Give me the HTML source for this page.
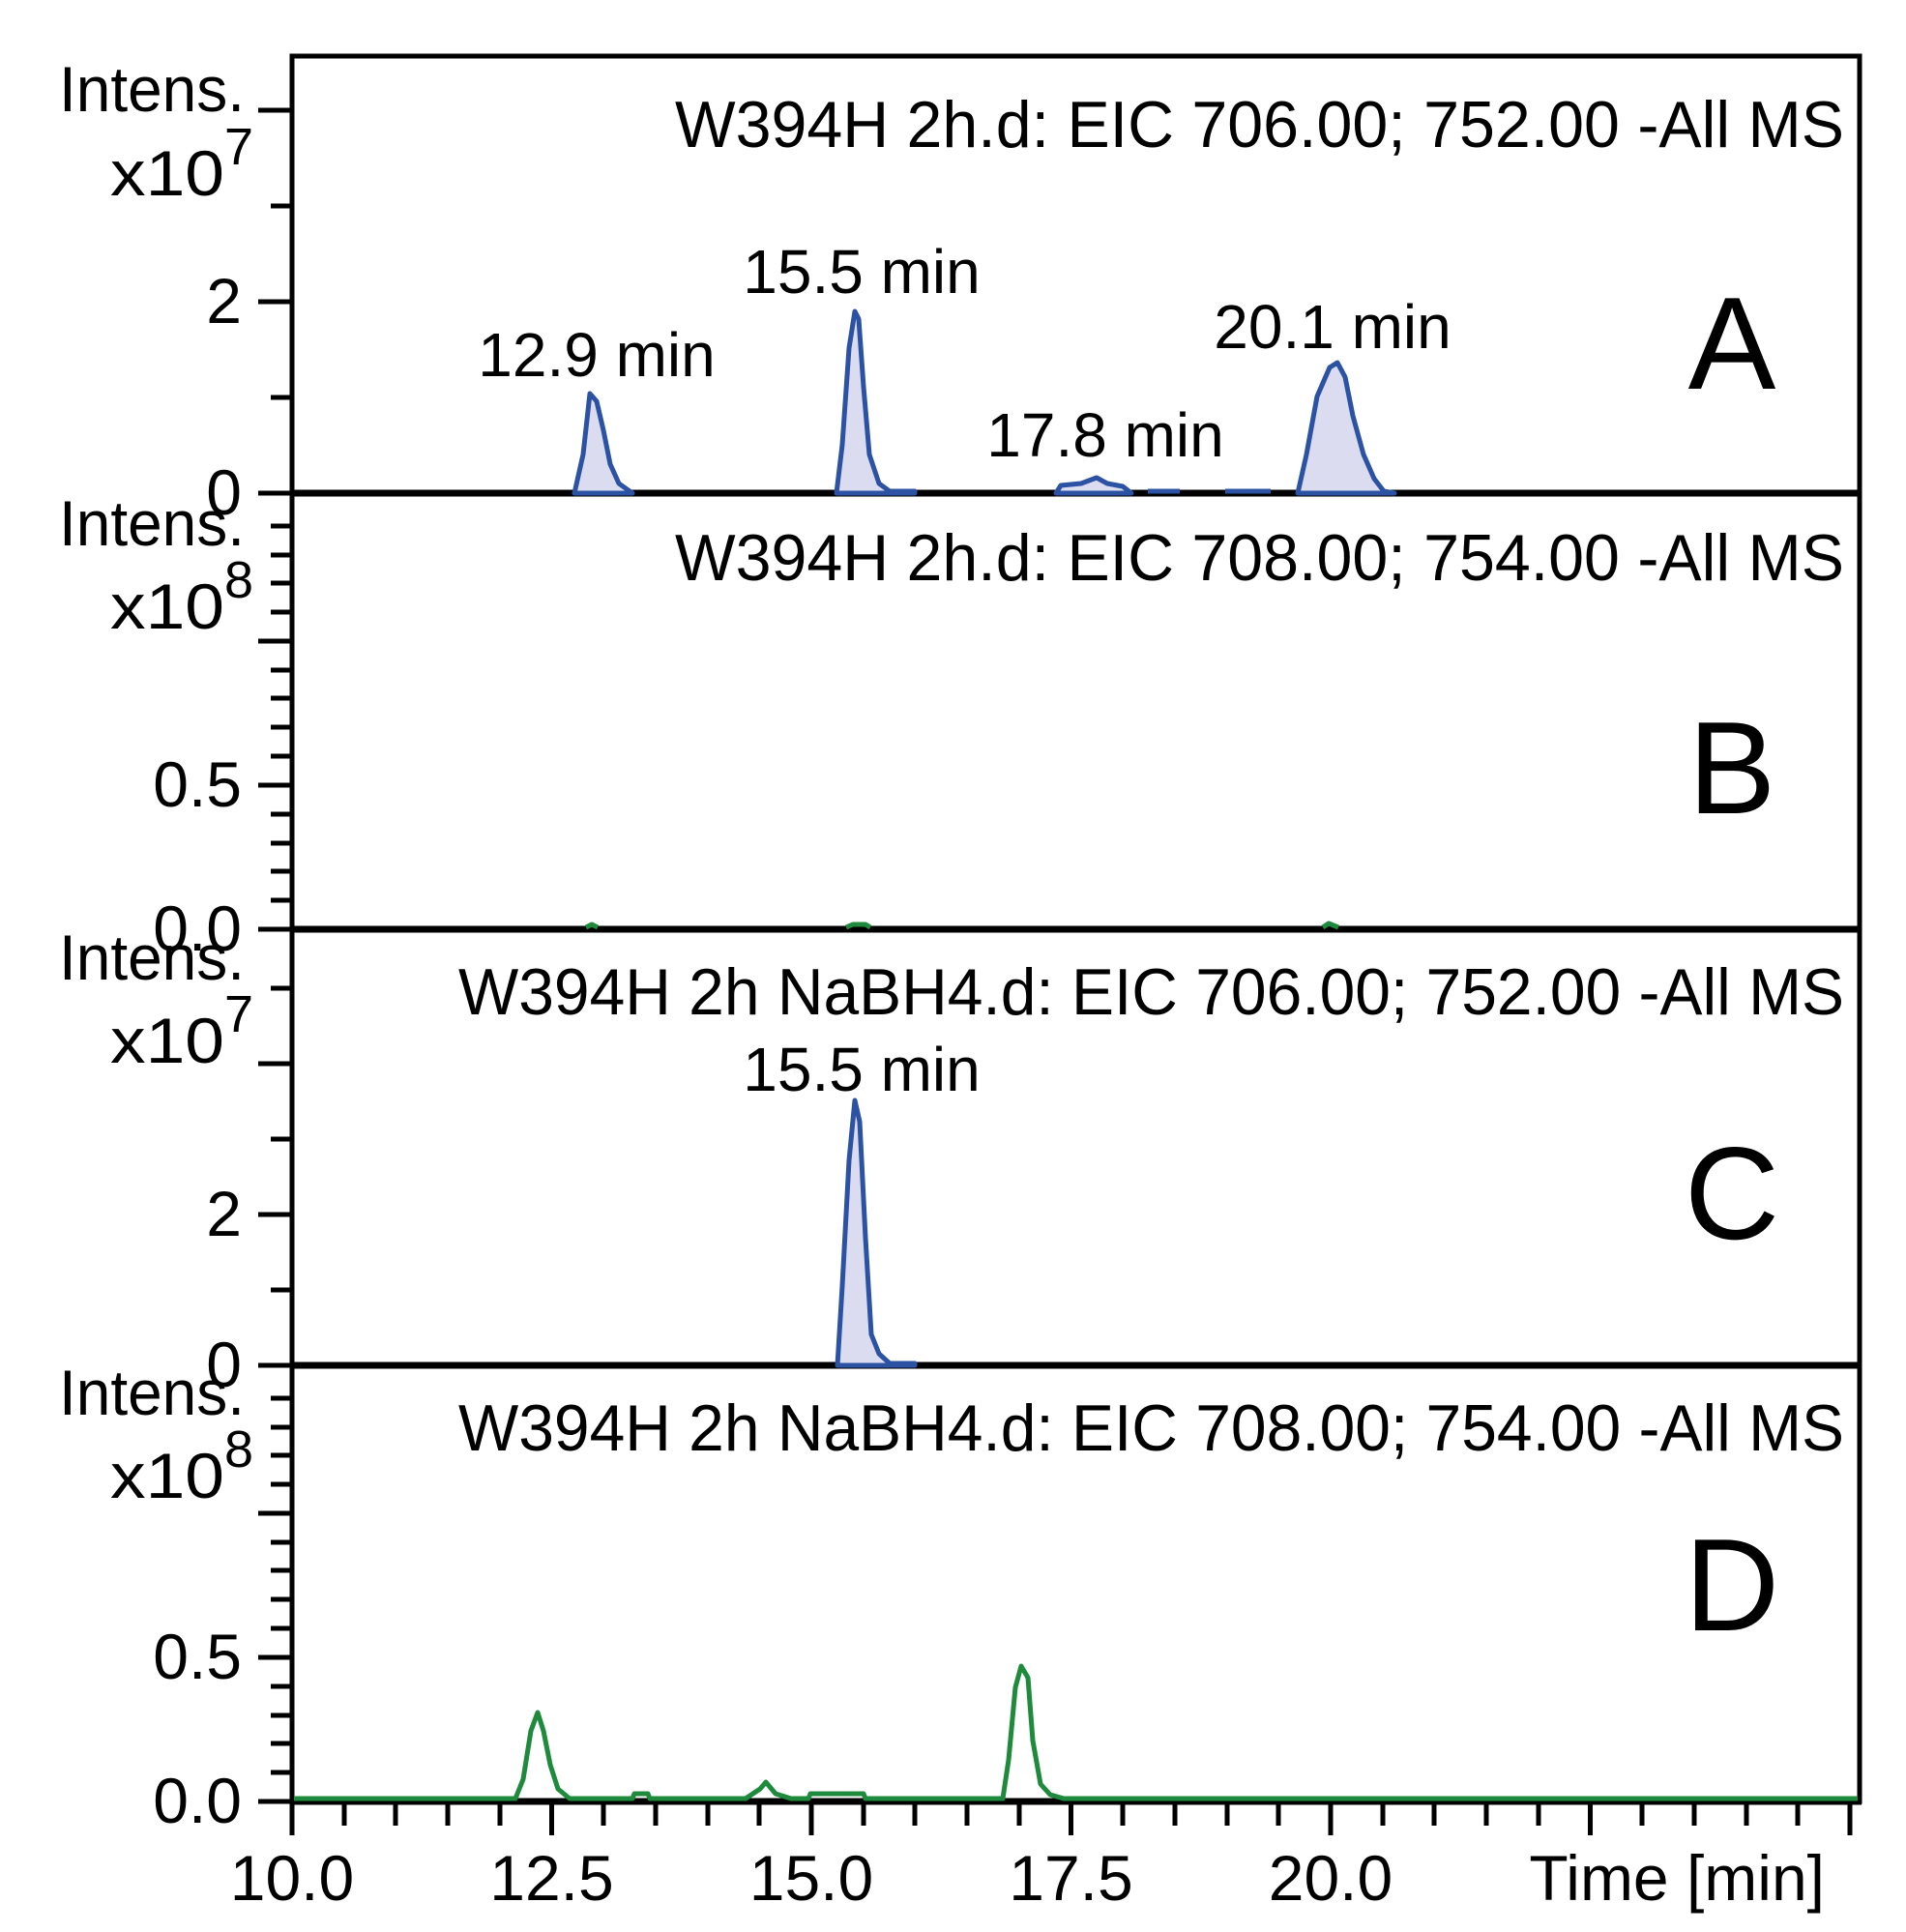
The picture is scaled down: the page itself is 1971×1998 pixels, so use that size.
<!DOCTYPE html>
<html><head><meta charset="utf-8"><style>html,body{margin:0;padding:0;background:#fff}svg{display:block}text{font-family:"Liberation Sans",sans-serif;fill:#000}</style></head><body>
<svg width="1971" height="1998" viewBox="0 0 1971 1998" xmlns="http://www.w3.org/2000/svg">
<rect width="1971" height="1998" fill="#fff"/>
<rect x="302" y="58" width="1621" height="1805" fill="none" stroke="#000" stroke-width="5"/>
<g stroke="#000" stroke-width="7"><line x1="300" y1="510" x2="1925" y2="510"/><line x1="300" y1="961" x2="1925" y2="961"/><line x1="300" y1="1412" x2="1925" y2="1412"/><line x1="300" y1="1863" x2="1925" y2="1863"/></g>
<g stroke="#000" stroke-width="5">
<line x1="267" y1="510" x2="302" y2="510"/><line x1="280" y1="411" x2="302" y2="411"/><line x1="267" y1="312" x2="302" y2="312"/><line x1="280" y1="213" x2="302" y2="213"/><line x1="267" y1="114" x2="302" y2="114"/>
<line x1="267" y1="961" x2="302" y2="961"/><line x1="280" y1="931" x2="302" y2="931"/><line x1="280" y1="901" x2="302" y2="901"/><line x1="280" y1="872" x2="302" y2="872"/><line x1="280" y1="842" x2="302" y2="842"/><line x1="267" y1="812" x2="302" y2="812"/><line x1="280" y1="782" x2="302" y2="782"/><line x1="280" y1="752" x2="302" y2="752"/><line x1="280" y1="722" x2="302" y2="722"/><line x1="280" y1="693" x2="302" y2="693"/><line x1="267" y1="663" x2="302" y2="663"/><line x1="280" y1="633" x2="302" y2="633"/><line x1="280" y1="603" x2="302" y2="603"/><line x1="280" y1="574" x2="302" y2="574"/><line x1="280" y1="544" x2="302" y2="544"/>
<line x1="267" y1="1412" x2="302" y2="1412"/><line x1="280" y1="1334" x2="302" y2="1334"/><line x1="267" y1="1256" x2="302" y2="1256"/><line x1="280" y1="1178" x2="302" y2="1178"/><line x1="267" y1="1100" x2="302" y2="1100"/><line x1="280" y1="1022" x2="302" y2="1022"/>
<line x1="267" y1="1863" x2="302" y2="1863"/><line x1="280" y1="1833" x2="302" y2="1833"/><line x1="280" y1="1803" x2="302" y2="1803"/><line x1="280" y1="1774" x2="302" y2="1774"/><line x1="280" y1="1744" x2="302" y2="1744"/><line x1="267" y1="1714" x2="302" y2="1714"/><line x1="280" y1="1684" x2="302" y2="1684"/><line x1="280" y1="1654" x2="302" y2="1654"/><line x1="280" y1="1624" x2="302" y2="1624"/><line x1="280" y1="1595" x2="302" y2="1595"/><line x1="267" y1="1565" x2="302" y2="1565"/><line x1="280" y1="1535" x2="302" y2="1535"/><line x1="280" y1="1505" x2="302" y2="1505"/><line x1="280" y1="1476" x2="302" y2="1476"/><line x1="280" y1="1446" x2="302" y2="1446"/>
</g>
<g stroke="#000" stroke-width="5">
<line x1="302" y1="1863" x2="302" y2="1898"/><line x1="356" y1="1863" x2="356" y2="1888"/><line x1="409" y1="1863" x2="409" y2="1888"/><line x1="463" y1="1863" x2="463" y2="1888"/><line x1="517" y1="1863" x2="517" y2="1888"/>
<line x1="570.5" y1="1863" x2="570.5" y2="1898"/><line x1="624" y1="1863" x2="624" y2="1888"/><line x1="678" y1="1863" x2="678" y2="1888"/><line x1="732" y1="1863" x2="732" y2="1888"/><line x1="785" y1="1863" x2="785" y2="1888"/>
<line x1="839" y1="1863" x2="839" y2="1898"/><line x1="893" y1="1863" x2="893" y2="1888"/><line x1="946" y1="1863" x2="946" y2="1888"/><line x1="1000" y1="1863" x2="1000" y2="1888"/><line x1="1054" y1="1863" x2="1054" y2="1888"/>
<line x1="1107.5" y1="1863" x2="1107.5" y2="1898"/><line x1="1161" y1="1863" x2="1161" y2="1888"/><line x1="1215" y1="1863" x2="1215" y2="1888"/><line x1="1269" y1="1863" x2="1269" y2="1888"/><line x1="1322" y1="1863" x2="1322" y2="1888"/>
<line x1="1376" y1="1863" x2="1376" y2="1898"/><line x1="1430" y1="1863" x2="1430" y2="1888"/><line x1="1483" y1="1863" x2="1483" y2="1888"/><line x1="1537" y1="1863" x2="1537" y2="1888"/><line x1="1591" y1="1863" x2="1591" y2="1888"/>
<line x1="1644.5" y1="1863" x2="1644.5" y2="1898"/><line x1="1698" y1="1863" x2="1698" y2="1888"/><line x1="1752" y1="1863" x2="1752" y2="1888"/><line x1="1806" y1="1863" x2="1806" y2="1888"/><line x1="1859" y1="1863" x2="1859" y2="1888"/><line x1="1913" y1="1863" x2="1913" y2="1898"/>
</g>
<g font-size="66" text-anchor="middle">
<text x="302" y="1965">10.0</text><text x="570.5" y="1965">12.5</text><text x="839" y="1965">15.0</text><text x="1107.5" y="1965">17.5</text><text x="1376" y="1965">20.0</text>
</g>
<text x="1887" y="1965" font-size="66" text-anchor="end">Time [min]</text>
<g font-size="66" text-anchor="end">
<text x="253" y="115" textLength="192" lengthAdjust="spacingAndGlyphs">Intens.</text><text x="232" y="202" textLength="118" lengthAdjust="spacingAndGlyphs">x10</text><text x="262" y="170" font-size="54">7</text>
<text x="250" y="334">2</text><text x="250" y="532">0</text>
<text x="253" y="564" textLength="192" lengthAdjust="spacingAndGlyphs">Intens.</text><text x="232" y="650" textLength="118" lengthAdjust="spacingAndGlyphs">x10</text><text x="262" y="618" font-size="54">8</text>
<text x="250" y="834">0.5</text><text x="250" y="983">0.0</text>
<text x="253" y="1013" textLength="192" lengthAdjust="spacingAndGlyphs">Intens.</text><text x="232" y="1099" textLength="118" lengthAdjust="spacingAndGlyphs">x10</text><text x="262" y="1067" font-size="54">7</text>
<text x="250" y="1278">2</text><text x="250" y="1434">0</text>
<text x="253" y="1463" textLength="192" lengthAdjust="spacingAndGlyphs">Intens.</text><text x="232" y="1549" textLength="118" lengthAdjust="spacingAndGlyphs">x10</text><text x="262" y="1517" font-size="54">8</text>
<text x="250" y="1736">0.5</text><text x="250" y="1885">0.0</text>
</g>
<g font-size="68">
<text x="698" y="152" textLength="1209" lengthAdjust="spacingAndGlyphs">W394H 2h.d: EIC 706.00; 752.00 -All MS</text>
<text x="698" y="600" textLength="1209" lengthAdjust="spacingAndGlyphs">W394H 2h.d: EIC 708.00; 754.00 -All MS</text>
<text x="474" y="1049" textLength="1433" lengthAdjust="spacingAndGlyphs">W394H 2h NaBH4.d: EIC 706.00; 752.00 -All MS</text>
<text x="474" y="1500" textLength="1433" lengthAdjust="spacingAndGlyphs">W394H 2h NaBH4.d: EIC 708.00; 754.00 -All MS</text>
</g>
<g font-size="136" text-anchor="middle">
<text x="1791" y="402">A</text><text x="1791" y="841">B</text><text x="1791" y="1281">C</text><text x="1791" y="1686">D</text>
</g>
<g font-size="64" text-anchor="middle">
<text x="617" y="389">12.9 min</text><text x="891" y="303">15.5 min</text><text x="1143" y="472">17.8 min</text><text x="1378" y="360">20.1 min</text><text x="891" y="1128">15.5 min</text>
</g>
<g fill="#dcdcf0" stroke="#2b52a3" stroke-width="5" stroke-linejoin="round">
<path d="M594 510 L603 470 L610 407 L617 415 L624 445 L631 480 L640 500 L654 510 Z"/>
<path d="M865 510 L871 460 L878 360 L884 322 L888 330 L893 400 L899 470 L909 500 L920 508 L946 508 L946 510 Z"/>
<path d="M1092 510 L1097 502 L1118 500 L1134 494 L1145 500 L1161 503 L1170 510 Z"/>
<path d="M1342 510 L1351 470 L1362 410 L1375 380 L1383 375 L1391 390 L1399 430 L1410 470 L1421 495 L1431 508 L1442 510 Z"/>
<path d="M866 1412 L871 1330 L878 1200 L884 1138 L889 1160 L895 1280 L901 1380 L909 1400 L920 1410 L946 1410 L946 1412 Z"/>
</g>
<g stroke="#2b52a3" stroke-width="5" fill="none"><line x1="1187" y1="508" x2="1220" y2="508"/><line x1="1267" y1="508" x2="1314" y2="508"/></g>
<g stroke="#1e8a3c" stroke-width="5" fill="none" stroke-linejoin="round">
<path d="M606 959 L612 956 L618 959"/><path d="M875 959 L882 956 L895 956 L900 959"/><path d="M1368 959 L1374 955 L1384 959"/>
<path d="M304 1860 L533 1860 L541 1840 L549 1790 L556 1771 L562 1790 L569 1825 L577 1850 L589 1860 L654 1860 L656 1855 L670 1855 L672 1860 L771 1860 L786 1850 L792 1843 L802 1855 L818 1860 L836 1860 L838 1855 L893 1855 L895 1860 L1037 1860 L1043 1820 L1050 1745 L1056 1723 L1063 1735 L1068 1800 L1076 1845 L1086 1856 L1100 1860 L1921 1860"/>
</g>
</svg>
</body></html>
